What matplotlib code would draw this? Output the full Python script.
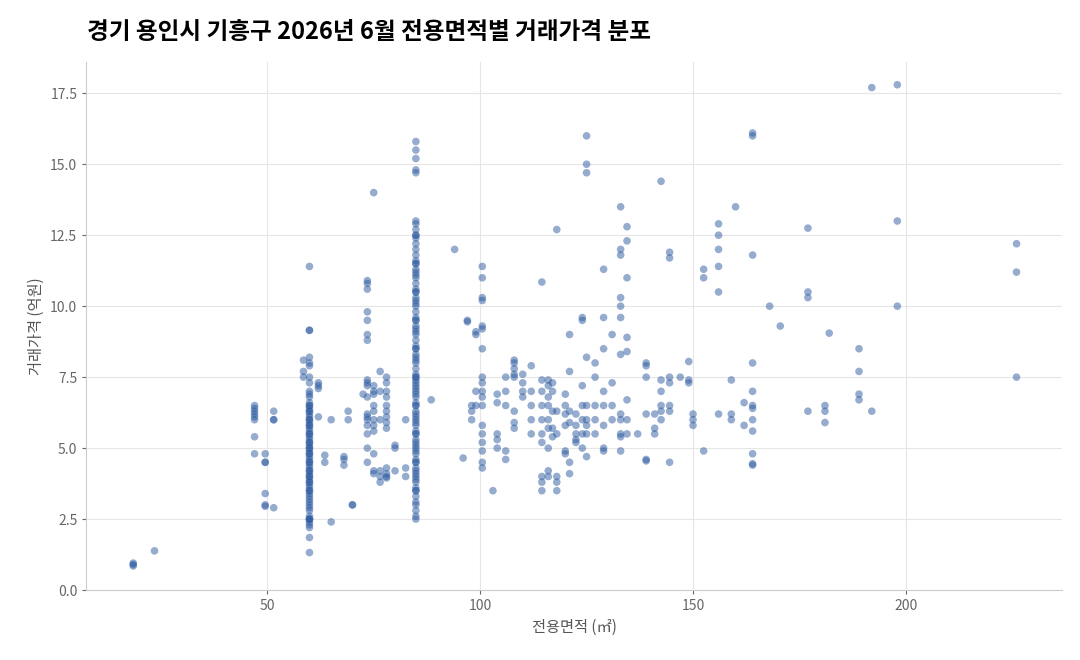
import matplotlib
matplotlib.use("Agg")
import matplotlib.pyplot as plt

plt.rcParams['font.family'] = ['Noto Sans CJK KR', 'DejaVu Sans']

# 전용면적(㎡) per group and the deal prices (억원) seen at that area
areas = [18.5, 23.5, 47, 49.5, 51.5, 59.9, 58.5, 62, 63.5, 65, 68, 69, 70, 72.5,
         73.5, 75, 76.5, 78, 80, 82.5, 84.9, 88.5, 94, 96, 97, 98, 99, 100.5,
         103, 104, 106, 108, 110, 112, 114.5, 116, 117, 118, 120, 121, 122.5,
         124, 125, 127, 129, 131, 133, 134.5, 137, 139, 141, 142.5, 144.5, 147,
         149, 150, 152.5, 156, 159, 160, 162, 164, 168, 170.5, 177, 181, 182,
         189, 192, 198, 226]

prices = [
    [0.9, 0.85, 0.95],
    [1.38],
    [6.5, 6.4, 6.3, 6.2, 6.1, 6.0, 5.4, 4.8],
    [4.8, 4.5, 4.5, 3.4, 3.0, 2.95],
    [6.3, 6.0, 6.0, 2.9],
    [11.4, 9.15, 9.15, 8.2, 8.0, 7.9, 7.5, 7.3, 7.0, 6.9, 6.8, 6.6, 6.5, 6.4, 6.3,
     6.2, 6.1, 6.0, 5.9, 5.8, 5.7, 5.6, 5.5, 5.4, 5.3, 5.2, 5.1, 5.0, 4.9, 4.8,
     4.7, 4.6, 4.5, 4.4, 4.3, 4.2, 4.1, 4.0, 3.9, 3.8, 3.7, 3.6, 3.5, 3.4, 3.3,
     3.2, 3.1, 3.0, 2.9, 2.8, 2.6, 2.5, 2.5, 2.4, 2.3, 2.2, 1.85, 1.32,
     6.5, 6.0, 5.5, 5.0, 4.5, 4.0, 3.5, 2.5, 6.3, 5.8, 5.2, 4.8, 4.2, 3.8],
    [8.1, 7.7, 7.5],
    [7.3, 7.2, 7.1, 6.1],
    [4.75, 4.5],
    [6.0, 2.4],
    [4.7, 4.6, 4.4],
    [6.3, 6.0],
    [3.0, 3.0],
    [6.9],
    [10.9, 10.8, 10.6, 9.8, 9.5, 9.0, 8.8, 7.4, 7.3, 7.2, 6.8, 6.2, 6.1, 6.0,
     5.8, 5.5, 5.0, 4.5],
    [14.0, 7.2, 7.0, 6.9, 6.5, 6.3, 6.0, 5.8, 5.6, 4.8, 4.2, 4.1],
    [7.7, 7.0, 6.0, 4.0, 3.8, 4.2],
    [7.5, 7.3, 7.0, 6.8, 6.5, 6.3, 6.1, 5.9, 5.7, 4.3, 4.1, 4.0, 3.95],
    [5.1, 5.0, 4.2],
    [6.0, 4.3, 4.0],
    [15.8, 15.5, 15.2, 14.8, 14.7, 13.0, 12.9, 12.5, 12.4, 12.2, 12.0, 11.8, 11.6,
     11.5, 11.3, 11.1, 11.0, 10.8, 10.6, 10.5, 10.3, 10.1, 10.0, 9.8, 9.6, 9.5,
     9.3, 9.1, 9.0, 8.8, 8.6, 8.5, 8.3, 8.1, 8.0, 7.8, 7.6, 7.5, 7.3, 7.1, 7.0,
     6.8, 6.6, 6.5, 6.3, 6.1, 6.0, 5.8, 5.6, 5.5, 5.3, 5.1, 5.0, 4.8, 4.6, 4.5,
     4.3, 4.1, 4.0, 3.8, 3.6, 3.5, 3.3, 3.1, 3.0, 2.8, 2.6, 2.5,
     12.5, 11.5, 10.5, 9.5, 8.5, 7.5, 6.5, 5.5, 4.5, 3.5,
     12.7, 11.2, 10.2, 9.2, 8.2, 7.2, 6.2, 5.2, 4.2, 3.9, 7.4, 6.9, 5.9, 4.9],
    [6.7],
    [12.0],
    [4.65],
    [9.45, 9.5],
    [6.5, 6.3, 6.0],
    [9.1, 9.0, 7.0, 6.5],
    [11.4, 11.0, 10.3, 10.2, 9.3, 9.2, 8.5, 7.5, 7.3, 7.0, 6.8, 6.5, 5.8, 5.5,
     5.2, 4.9, 4.5, 4.3],
    [3.5],
    [6.9, 6.6, 5.5, 5.3, 5.0],
    [7.5, 7.0, 6.5, 4.9, 4.6],
    [8.1, 8.0, 7.8, 7.6, 7.5, 6.3, 5.9, 5.7],
    [7.6, 7.3, 7.0, 6.8],
    [7.9, 7.0, 6.5, 6.0, 5.5],
    [10.85, 7.4, 7.0, 6.5, 6.0, 5.5, 5.2, 4.0, 3.8, 3.5],
    [7.4, 7.2, 6.8, 6.5, 6.0, 5.7, 5.0, 4.2, 4.0],
    [7.3, 7.0, 6.3, 5.7, 5.4],
    [12.7, 6.3, 5.5, 3.5, 3.8, 4.0],
    [6.9, 6.5, 6.2, 5.8, 4.9, 4.8],
    [9.0, 7.7, 6.3, 5.9, 4.5, 4.1],
    [6.2, 5.8, 5.5, 5.3, 5.2],
    [9.6, 9.5, 7.2, 6.5, 6.0, 5.5, 5.0],
    [16.0, 15.0, 14.7, 8.2, 6.5, 6.0, 5.8, 5.5, 4.7],
    [8.0, 7.5, 6.5, 6.0, 5.5],
    [11.3, 9.6, 8.5, 7.0, 6.5, 5.8, 5.0, 4.9],
    [9.0, 7.3, 6.5, 6.0],
    [13.5, 12.0, 11.8, 10.3, 10.0, 9.6, 8.3, 6.2, 6.0, 5.5, 5.4, 4.9],
    [12.8, 12.3, 11.0, 8.9, 8.4, 6.7, 6.0, 5.5],
    [5.5],
    [8.0, 7.9, 7.5, 6.2, 4.6, 4.55],
    [6.2, 5.7, 5.5],
    [14.4, 7.4, 7.0, 6.5, 6.3, 6.0],
    [11.9, 11.7, 7.5, 7.3, 6.5, 6.3, 4.5],
    [7.5],
    [8.05, 7.4, 7.3],
    [6.2, 6.0, 5.8],
    [11.3, 11.0, 4.9],
    [12.9, 12.5, 12.0, 11.4, 10.5, 6.2],
    [7.4, 6.2, 6.0],
    [13.5],
    [6.6, 5.8],
    [16.1, 16.0, 11.8, 8.0, 7.0, 6.5, 6.4, 6.0, 5.6, 4.8, 4.45, 4.4],
    [10.0],
    [9.3],
    [12.75, 10.5, 10.3, 6.3],
    [6.5, 6.3, 5.9],
    [9.05],
    [8.5, 7.7, 6.9, 6.7],
    [17.7, 6.3],
    [17.8, 13.0, 10.0],
    [12.2, 11.2, 7.5],
]

xs = []
ys = []
for a, group in zip(areas, prices):
    for p in group:
        xs.append(a)
        ys.append(p)

fig = plt.figure(figsize=(10.8, 6.6), dpi=100)
ax = fig.add_axes([0.08, 0.106, 0.903, 0.8])

ax.scatter(xs, ys, s=30, color="#2c5aa0", alpha=0.5, edgecolors="none", zorder=3)

ax.set_xlim(7.5, 236.6)
ax.set_ylim(0, 18.6)
ax.set_yticks([0, 2.5, 5, 7.5, 10, 12.5, 15, 17.5])
ax.set_yticklabels(["0.0", "2.5", "5.0", "7.5", "10.0", "12.5", "15.0", "17.5"])
ax.set_xticks([50, 100, 150, 200])
ax.grid(True, color="#e6e6e6", lw=0.8, zorder=0)
for side in ["top", "right"]:
    ax.spines[side].set_visible(False)
for side in ["left", "bottom"]:
    ax.spines[side].set_color("#cccccc")
ax.tick_params(colors="#666666", labelsize=10, length=3)

ax.set_xlabel("전용면적 (㎡)", color="#555555", fontsize=11)
ax.set_ylabel("거래가격 (억원)", color="#555555", fontsize=11)
fig.text(0.081, 0.952, "경기 용인시 기흥구 2026년 6월 전용면적별 거래가격 분포",
         fontsize=17, fontweight="black", ha="left", va="center")

fig.savefig("out.png", dpi=100, facecolor="white")
